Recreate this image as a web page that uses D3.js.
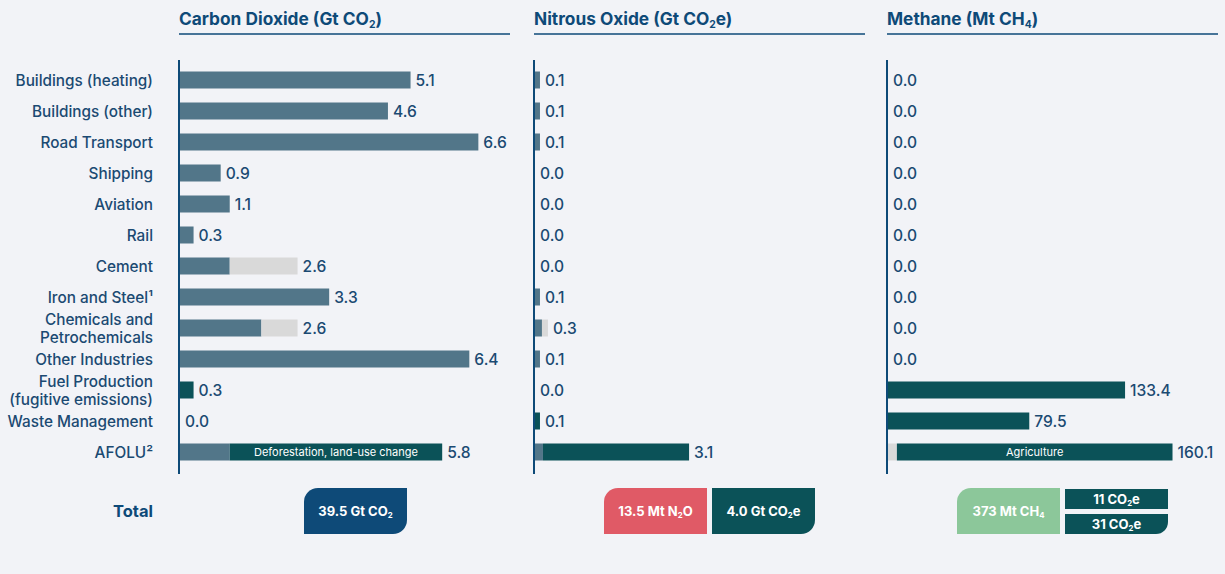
<!DOCTYPE html>
<html>
<head>
<meta charset="utf-8">
<script src="https://cdn.jsdelivr.net/npm/d3@7"></script>
<style>
  body { margin: 0; background: #f2f3f7; }
  svg { display: block; font-family: Inter, "Noto Sans", sans-serif; }
</style>
</head>
<body>
<svg id="chart" width="1225" height="574"></svg>
<script>
// sectors, top to bottom
const categories = ["Buildings (heating)", "Buildings (other)", "Road Transport", "Shipping", "Aviation", "Rail",
  "Cement", "Iron and Steel¹", "Chemicals and |Petrochemicals", "Other Industries",
  "Fuel Production |(fugitive emissions)", "Waste Management", "AFOLU²"];

// carbon dioxide, Gt CO2
const co2Energy  = [5.1, 4.6, 6.6, 0.9, 1.1, 0.3, 1.1, 3.3, 1.8, 6.4, 0, 0, 1.1];
const co2Process = [0, 0, 0, 0, 0, 0, 1.5, 0, 0.8, 0, 0, 0, 0];
const co2Other   = [0, 0, 0, 0, 0, 0, 0, 0, 0, 0, 0.3, 0, 4.7];

// nitrous oxide, Gt CO2e
const n2oEnergy  = [0.1, 0.1, 0.1, 0, 0, 0, 0, 0.1, 0.14, 0.1, 0, 0, 0.16];
const n2oProcess = [0, 0, 0, 0, 0, 0, 0, 0, 0.12, 0, 0, 0, 0];
const n2oOther   = [0, 0, 0, 0, 0, 0, 0, 0, 0, 0, 0, 0.1, 2.94];

// methane, Mt CH4
const ch4Energy  = [0, 0, 0, 0, 0, 0, 0, 0, 0, 0, 0, 0, 0];
const ch4Process = [0, 0, 0, 0, 0, 0, 0, 0, 0, 0, 0, 0, 5];
const ch4Other   = [0, 0, 0, 0, 0, 0, 0, 0, 0, 0, 133.4, 79.5, 155.1];

const svg = d3.select("#chart");
const navy = "#0e4a78";
const textCol = "#1b4a72";
const colors = {energy: "#527689", process: "#d9d9d9", other: "#0b5258"};

const y = d3.scalePoint().domain(categories).range([80, 452]);
const barH = 17;

// writes text pieces, subscripts as smaller lowered tspans
function rich(t, parts, size, drop) {
  let shifted = false;
  parts.forEach(p => {
    const s = t.append("tspan");
    if (p.sub) {
      s.attr("font-size", size * 0.6).attr("dy", drop).text(p.sub);
      shifted = true;
    } else {
      if (shifted) s.attr("dy", -drop);
      shifted = false;
      s.text(p.t);
    }
  });
}

// sector labels
const labels = svg.append("g")
    .attr("font-size", 15.3)
    .attr("font-weight", 500)
    .attr("fill", textCol)
    .attr("text-anchor", "end");
categories.forEach(c => {
  const lines = c.split("|");
  const t = labels.append("text").attr("x", 153).attr("y", y(c) + 5.5 - (lines.length - 1) * 9);
  lines.forEach((l, i) => t.append("tspan").attr("x", 153).attr("dy", i ? 18 : 0).text(l.trim()));
});

const panels = [
  {x0: 179, max: 7.3, energy: co2Energy, process: co2Process, other: co2Other,
   title: [{t: "Carbon Dioxide (Gt CO"}, {sub: "2"}, {t: ")"}],
   inner: {row: 12, text: "Deforestation, land-use change"}, fmt: d3.format(".1f")},
  {x0: 534, max: 6.64, energy: n2oEnergy, process: n2oProcess, other: n2oOther,
   title: [{t: "Nitrous Oxide (Gt CO"}, {sub: "2"}, {t: "e)"}], fmt: d3.format(".1f")},
  {x0: 887, max: 185.7, energy: ch4Energy, process: ch4Process, other: ch4Other,
   title: [{t: "Methane (Mt CH"}, {sub: "4"}, {t: ")"}],
   inner: {row: 12, text: "Agriculture"}, fmt: d3.format(".1f")}
];

panels.forEach(p => {
  const g = svg.append("g").attr("transform", `translate(${p.x0},0)`);
  const x = d3.scaleLinear().domain([0, p.max]).range([0, 330]);

  const t = g.append("text").attr("x", 0).attr("y", 25)
      .attr("font-size", 17.3).attr("font-weight", 700).attr("fill", navy);
  rich(t, p.title, 17.3, 3);
  g.append("line").attr("x1", 0).attr("x2", 331).attr("y1", 34).attr("y2", 34)
      .attr("stroke", navy).attr("stroke-width", 1.5);

  const rows = categories.map((c, i) => ({
    cat: c,
    segs: [["energy", p.energy[i]], ["process", p.process[i]], ["other", p.other[i]]],
    total: p.energy[i] + p.process[i] + p.other[i]
  }));

  rows.forEach((r, i) => {
    let acc = 0;
    r.segs.forEach(([k, v]) => {
      if (v <= 0) return;
      g.append("rect")
          .attr("x", x(acc) + 1)
          .attr("y", y(r.cat) - barH / 2)
          .attr("width", x(acc + v) - x(acc))
          .attr("height", barH)
          .attr("fill", colors[k]);
      if (p.inner && p.inner.row === i && k === "other") {
        g.append("text")
            .attr("x", 1 + (x(acc) + x(acc + v)) / 2)
            .attr("y", y(r.cat) + 4)
            .attr("text-anchor", "middle")
            .attr("font-size", 11)
            .attr("fill", "#fff")
            .text(p.inner.text);
      }
      acc += v;
    });
    g.append("text")
        .attr("x", x(r.total) + 6)
        .attr("y", y(r.cat) + 5.5)
        .attr("font-size", 15.6)
        .attr("font-weight", 500)
        .attr("fill", textCol)
        .text(p.fmt(r.total));
  });

  g.append("line").attr("x1", 0).attr("x2", 0).attr("y1", 60).attr("y2", 474)
      .attr("stroke", navy).attr("stroke-width", 2);
});

// totals row
svg.append("text").attr("x", 153).attr("y", 517).attr("text-anchor", "end")
    .attr("font-size", 16.5).attr("font-weight", 700).attr("fill", navy).text("Total");

function box(x, yy, w, h, tl, br, fill) {
  const p = d3.path();
  p.moveTo(x + tl, yy);
  p.lineTo(x + w, yy);
  p.lineTo(x + w, yy + h - br);
  if (br) p.arcTo(x + w, yy + h, x + w - br, yy + h, br);
  p.lineTo(x, yy + h);
  p.lineTo(x, yy + tl);
  if (tl) p.arcTo(x, yy, x + tl, yy, tl);
  p.closePath();
  svg.append("path").attr("d", p.toString()).attr("fill", fill);
}

const totals = [
  {x: 304, y: 488, w: 103, h: 46, tl: 14, br: 14, fill: "#0e4a78", text: [{t: "39.5 Gt CO"}, {sub: "2"}]},
  {x: 604, y: 488, w: 103, h: 46, tl: 14, br: 0, fill: "#e05a66", text: [{t: "13.5 Mt N"}, {sub: "2"}, {t: "O"}]},
  {x: 712, y: 488, w: 103, h: 46, tl: 0, br: 14, fill: "#0b5258", text: [{t: "4.0 Gt CO"}, {sub: "2"}, {t: "e"}]},
  {x: 957, y: 488, w: 103, h: 46, tl: 14, br: 0, fill: "#8cc79a", text: [{t: "373 Mt CH"}, {sub: "4"}]},
  {x: 1065, y: 489, w: 103, h: 20, tl: 0, br: 0, fill: "#0b5258", text: [{t: "11 CO"}, {sub: "2"}, {t: "e"}]},
  {x: 1065, y: 514, w: 103, h: 20, tl: 0, br: 12, fill: "#0b5258", text: [{t: "31 CO"}, {sub: "2"}, {t: "e"}]}
];
totals.forEach(b => {
  box(b.x, b.y, b.w, b.h, b.tl, b.br, b.fill);
  const t = svg.append("text").attr("x", b.x + b.w / 2).attr("y", b.y + b.h / 2 + 4.5)
      .attr("text-anchor", "middle").attr("font-size", 13).attr("font-weight", 700).attr("fill", "#fff");
  rich(t, b.text, 13, 2.5);
});
</script>
</body>
</html>
